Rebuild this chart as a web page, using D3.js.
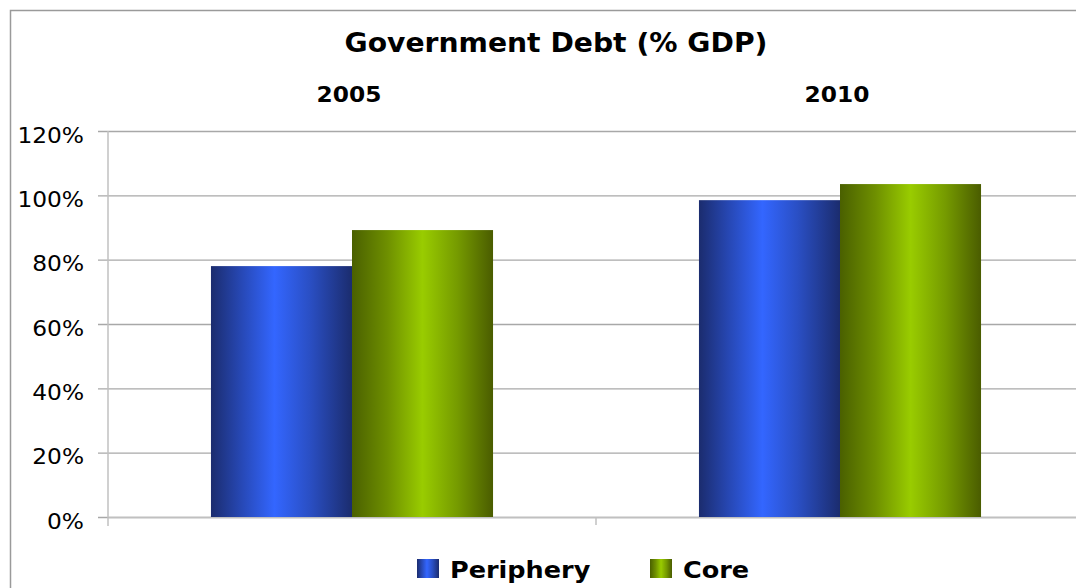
<!DOCTYPE html>
<html>
<head>
<meta charset="utf-8">
<script src="https://cdn.jsdelivr.net/npm/d3@7/dist/d3.min.js"></script>
<style>
  html, body { margin: 0; padding: 0; background: #fff; }
  svg { display: block; }
  text { font-family: "DejaVu Sans", Verdana, sans-serif; fill: #000; }
</style>
</head>
<body>
<svg id="chart" width="1076" height="588"></svg>
<script>
// Government debt as a share of GDP, by country group
const years = ["2005", "2010"];
const series = ["Periphery", "Core"];
const periphery = [78.0, 98.5];
const core = [89.2, 103.5];
const yTicks = [0, 20, 40, 60, 80, 100, 120];
const titleText = "Government Debt (% GDP)";

const values = { Periphery: periphery, Core: core };

const W = 1076, H = 588;
const plot = { left: 108, right: 1084, top: 131, bottom: 517 };
const stretch = 1.11; // text is set slightly wide

const svg = d3.select("#chart");

// Horizontal "cylinder" shading for each series
const defs = svg.append("defs");
const gradStops = {
  Periphery: [[0, "#1b2c6e"], [0.2, "#2646b0"], [0.45, "#3366ff"], [0.7, "#2a4fc4"], [1, "#1b2c6e"]],
  Core: [[0, "#4a6000"], [0.25, "#6e8f00"], [0.5, "#99cc00"], [0.75, "#759a00"], [1, "#4a5c00"]]
};
series.forEach(s => {
  const g = defs.append("linearGradient")
    .attr("id", "grad-" + s)
    .attr("x1", "0%").attr("x2", "100%").attr("y1", "0%").attr("y2", "0%");
  gradStops[s].forEach(([o, c]) => g.append("stop").attr("offset", o).attr("stop-color", c));
});

// Outer chart frame
svg.append("rect")
  .attr("x", 10.5).attr("y", 10.5)
  .attr("width", W + 20).attr("height", H + 20)
  .attr("fill", "none").attr("stroke", "#9a9a9a").attr("stroke-width", 1.5);

const x0 = d3.scaleBand().domain(years).range([plot.left, plot.right]).padding(0);
const x1 = d3.scaleBand().domain(series).range([0, x0.bandwidth()]).paddingInner(0).paddingOuter(0.73);
const y = d3.scaleLinear().domain([0, 120]).range([plot.bottom, plot.top]);

// Gridlines with left tick marks
const labelGap = 24;
const yAxis = d3.axisLeft(y)
  .tickValues(yTicks)
  .tickSize(-(plot.right - plot.left))
  .tickSizeOuter(0)
  .tickFormat(d => d + "%");
const gy = svg.append("g")
  .attr("transform", `translate(${plot.left},0)`)
  .call(yAxis);
gy.select(".domain").remove();
gy.selectAll(".tick line")
  .attr("x1", -10)
  .attr("stroke", "#a8a8a8")
  .attr("stroke-width", 1.3);
gy.selectAll(".tick text")
  .attr("font-size", 21)
  .attr("x", -labelGap / stretch)
  .attr("dy", "0.53em")
  .attr("transform", `scale(${stretch},1)`)
  .style("font-family", "DejaVu Sans, sans-serif")
  .attr("fill", "#000");

// Vertical value axis line
svg.append("line")
  .attr("x1", plot.left).attr("x2", plot.left)
  .attr("y1", plot.top).attr("y2", plot.bottom + 9)
  .attr("stroke", "#c0c0c0").attr("stroke-width", 1.5);

// Category axis along the zero line, with divider ticks between groups
const xAxis = d3.axisBottom(x0).tickSize(0).tickFormat("");
const gx = svg.append("g")
  .attr("transform", `translate(0,${plot.bottom})`)
  .call(xAxis);
gx.select(".domain").attr("stroke", "#c0c0c0").attr("stroke-width", 1.5);
gx.selectAll(".tick").remove();
years.slice(1).forEach(yr => {
  gx.append("line")
    .attr("x1", x0(yr)).attr("x2", x0(yr))
    .attr("y1", 0).attr("y2", 8)
    .attr("stroke", "#c0c0c0").attr("stroke-width", 1.5);
});

// Bars
const groups = svg.append("g").selectAll("g")
  .data(years)
  .join("g")
  .attr("transform", d => `translate(${x0(d)},0)`);
groups.selectAll("rect")
  .data((yr, i) => series.map(s => ({ s, v: values[s][i] })))
  .join("rect")
  .attr("x", d => x1(d.s))
  .attr("width", x1.bandwidth())
  .attr("y", d => y(d.v))
  .attr("height", d => y(0) - y(d.v))
  .attr("fill", d => `url(#grad-${d.s})`);

// Title and category labels across the top
svg.append("g")
  .attr("transform", `translate(556,52) scale(1.085,1)`)
  .append("text")
  .attr("text-anchor", "middle")
  .attr("font-size", 26).attr("font-weight", "bold")
  .text(titleText);

svg.append("g").selectAll("g")
  .data(years)
  .join("g")
  .attr("transform", d => `translate(${x0(d) + x0.bandwidth() / 2 - 3},102) scale(${stretch},1)`)
  .append("text")
  .attr("text-anchor", "middle")
  .attr("font-size", 21).attr("font-weight", "bold")
  .text(d => d);

// Legend
const legendItems = [
  { s: "Periphery", x: 417 },
  { s: "Core", x: 650 }
];
const lg = svg.append("g").selectAll("g")
  .data(legendItems)
  .join("g")
  .attr("transform", d => `translate(${d.x},559)`);
lg.append("rect")
  .attr("width", 22).attr("height", 19)
  .attr("fill", d => `url(#grad-${d.s})`);
lg.append("g")
  .attr("transform", `translate(33,19) scale(${stretch},1)`)
  .append("text")
  .attr("font-size", 23).attr("font-weight", "bold")
  .text(d => d.s);
</script>
</body>
</html>
